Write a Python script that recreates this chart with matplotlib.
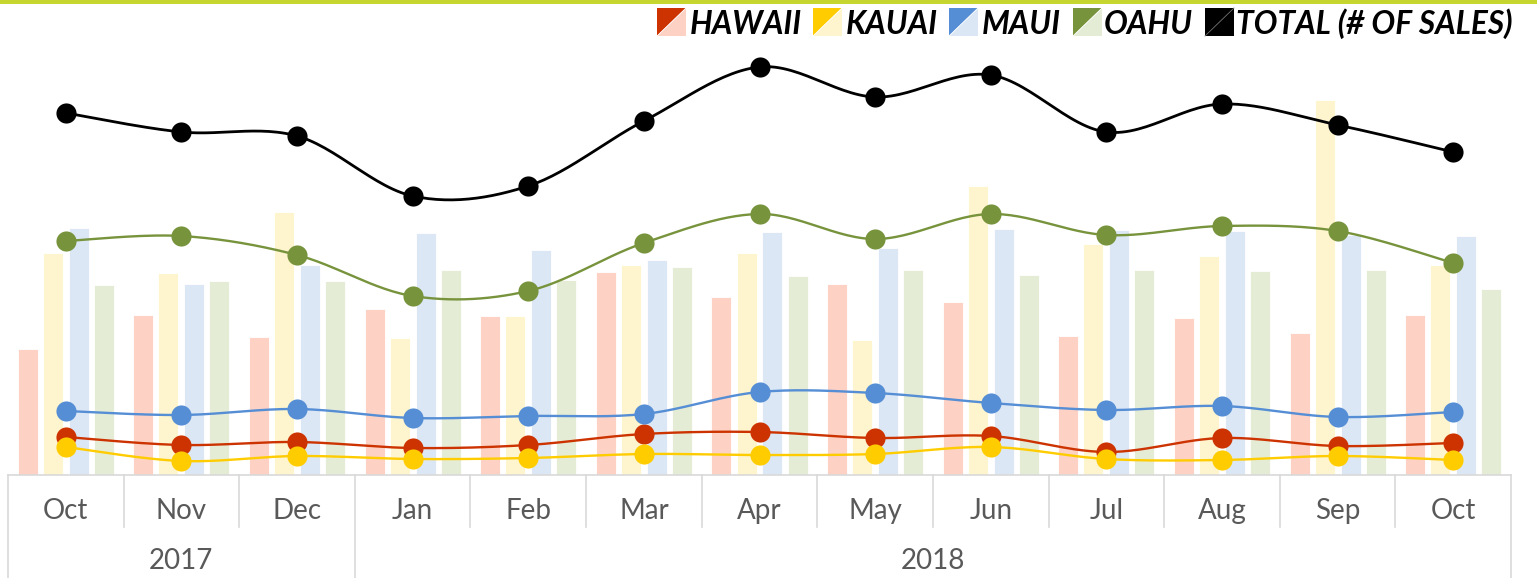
import numpy as np
import matplotlib
matplotlib.use("Agg")
import matplotlib.pyplot as plt
from matplotlib.patches import Polygon, Rectangle
from matplotlib.lines import Line2D

months = ['Oct', 'Nov', 'Dec', 'Jan', 'Feb', 'Mar', 'Apr', 'May', 'Jun', 'Jul', 'Aug', 'Sep', 'Oct']
year_labels = ['2017', '2018']
year_spans = [(0, 3), (3, 13)]   # month index ranges per year

# bars (arbitrary units - no value axis shown)
hawaii_bar = [126, 160, 138, 166, 159, 203, 178, 191, 173, 139, 157, 142, 160]
kauai_bar = [222, 202, 263, 137, 159, 210, 222, 135, 289, 231, 219, 375, 210]
maui_bar = [247, 191, 210, 242, 225, 215, 243, 227, 246, 245, 244, 240, 239]
oahu_bar = [190, 194, 194, 205, 195, 208, 199, 205, 200, 205, 204, 205, 186]

# lines (# of sales, same arbitrary units)
hawaii_sales = [38, 30, 33, 27, 30, 41, 43, 37, 39, 23, 37, 29, 32]
kauai_sales = [28, 14, 19, 16, 17, 21, 20, 21, 28, 16, 15, 19, 15]
maui_sales = [64, 60, 66, 57, 59, 61, 83, 82, 72, 65, 69, 58, 63]
oahu_sales = [234, 239, 220, 179, 184, 232, 261, 236, 261, 240, 249, 244, 212]
total_sales = [362, 343, 339, 279, 289, 354, 408, 378, 400, 343, 371, 350, 323]

names = ['HAWAII', 'KAUAI', 'MAUI', 'OAHU']
dark = ['#CC3300', '#FFCC00', '#558ED5', '#77933C']
light = ['#FDD1C4', '#FEF4CD', '#DCE7F5', '#E5ECD6']

W, H = 1537, 578
BASE = 475      # pixel row of the category axis
TOP = 45
LEFT, RIGHT = 8, 1511

def smooth(x, y, n=30):
    # excel style smoothed line (catmull-rom as bezier)
    x = np.asarray(x, float)
    y = np.asarray(y, float)
    px = np.concatenate([[x[0]], x, [x[-1]]])
    py = np.concatenate([[y[0]], y, [y[-1]]])
    t = np.linspace(0, 1, n)
    xs, ys = [], []
    for i in range(1, len(px) - 2):
        c1x = px[i] + (px[i + 1] - px[i - 1]) / 6
        c1y = py[i] + (py[i + 1] - py[i - 1]) / 6
        c2x = px[i + 1] - (px[i + 2] - px[i]) / 6
        c2y = py[i + 1] - (py[i + 2] - py[i]) / 6
        a = (1 - t) ** 3
        b = 3 * (1 - t) ** 2 * t
        c = 3 * (1 - t) * t ** 2
        d = t ** 3
        xs.append(a * px[i] + b * c1x + c * c2x + d * px[i + 1])
        ys.append(a * py[i] + b * c1y + c * c2y + d * py[i + 1])
    return np.concatenate(xs), np.concatenate(ys)

def fx(xp):
    return xp / W

def fy(yp):
    return 1 - yp / H

fig = plt.figure(figsize=(W / 100, H / 100), dpi=100)
ax = fig.add_axes([fx(LEFT), fy(BASE), (RIGHT - LEFT) / W, (BASE - TOP) / H])
ax.set_xlim(-0.5, len(months) - 0.5)
ax.set_ylim(0, BASE - TOP)
ax.axis('off')

x = np.arange(len(months))
slot = (RIGHT - LEFT) / len(months)
bw = 20 / slot
offsets = [-0.329, -0.112, 0.112, 0.329]
for vals, off, c in zip([hawaii_bar, kauai_bar, maui_bar, oahu_bar], offsets, light):
    ax.bar(x + off, vals, width=bw, color=c, edgecolor='white', linewidth=0.6, zorder=1)

for vals, c in zip([hawaii_sales, kauai_sales, maui_sales, oahu_sales], dark):
    sx, sy = smooth(x, vals)
    ax.plot(sx, sy, color=c, lw=1.7, zorder=3, clip_on=False)
    ax.plot(x, vals, 'o', color=c, ms=14.5, mec='none', zorder=4, clip_on=False)
sx, sy = smooth(x, total_sales)
ax.plot(sx, sy, color='black', lw=2, zorder=3, clip_on=False)
ax.plot(x, total_sales, 'o', color='black', ms=14.5, mec='none', zorder=4, clip_on=False)

# category axis (two level)
grid = '#D9D9D9'
fig.add_artist(Line2D([fx(LEFT), fx(RIGHT)], [fy(BASE), fy(BASE)], color=grid, lw=1.2))
for k in range(len(months) + 1):
    xp = LEFT + k * slot
    bottom = 578 if k in (0, 3, len(months)) else 527
    fig.add_artist(Line2D([fx(xp), fx(xp)], [fy(BASE), fy(bottom)], color=grid, lw=1.2))

lab_font = dict(family=['Lato', 'DejaVu Sans'], size=20, color='#595959')
for i, m in enumerate(months):
    fig.text(fx(LEFT + (i + 0.5) * slot), fy(511), m, ha='center', va='center', **lab_font)
for lab, (a, b) in zip(year_labels, year_spans):
    fig.text(fx(LEFT + (a + b) / 2 * slot), fy(561), lab, ha='center', va='center', **lab_font)

# top accent strip
fig.add_artist(Rectangle((0, fy(4)), 1, 4 / H, transform=fig.transFigure,
                         color='#C6D530', lw=0))

# legend
leg_font = dict(family=['Lato', 'DejaVu Sans'], size=22.8, weight='bold', style='italic', color='black')
icon_x = [657, 813, 949, 1073, 1205]
text_x = [690, 846, 982, 1104, 1236]
labels = names + ['TOTAL (# OF SALES)']
darks = dark + ['black']
lights = light + ['black']
for ix, tx, lab, dc, lc in zip(icon_x, text_x, labels, darks, lights):
    x0, x1, y0, y1 = ix, ix + 29, 8, 36
    fig.add_artist(Polygon([(fx(x0), fy(y0)), (fx(x1), fy(y0)), (fx(x0), fy(y1))],
                           closed=True, transform=fig.transFigure, color=dc, lw=0))
    fig.add_artist(Polygon([(fx(x1), fy(y0)), (fx(x1), fy(y1)), (fx(x0), fy(y1))],
                           closed=True, transform=fig.transFigure, color=lc, lw=0))
    fig.add_artist(Line2D([fx(x1), fx(x0)], [fy(y0), fy(y1)], color='white' if dc != 'black' else '#666666',
                          lw=0.6))
    fig.text(fx(tx), fy(24), lab, ha='left', va='center', **leg_font)

fig.savefig('out.png', dpi=100)
